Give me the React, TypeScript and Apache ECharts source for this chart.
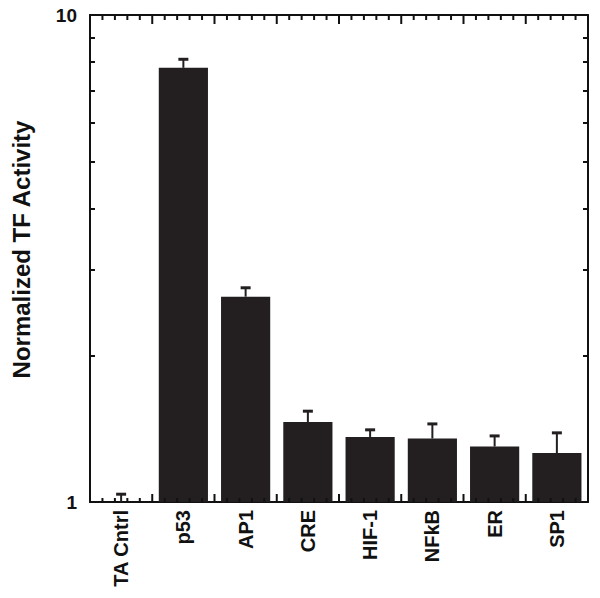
import React, { useEffect, useRef } from "react";
import * as echarts from "echarts";

const categories = ["TA Cntrl", "p53", "AP1", "CRE", "HIF-1", "NFkB", "ER", "SP1"];
const activity = [1.0, 7.79, 2.64, 1.46, 1.36, 1.35, 1.3, 1.26];
const errorTop = [1.04, 8.13, 2.76, 1.54, 1.41, 1.45, 1.37, 1.39];
const yMinorTickValues = [2, 3, 4, 5, 6, 7, 8, 9];
// frame tick positions along x, in category-width units (5 subdivisions per category)
const xFrameTicks = [
  0, 0.2, 0.4, 0.6, 0.8, 1, 1.2, 1.4, 1.6, 1.8, 2, 2.2, 2.4, 2.6, 2.8, 3, 3.2, 3.4, 3.6, 3.8, 4,
  4.2, 4.4, 4.6, 4.8, 5, 5.2, 5.4, 5.6, 5.8, 6, 6.2, 6.4, 6.6, 6.8, 7, 7.2, 7.4, 7.6, 7.8, 8,
];

const FONT = "'Liberation Sans', Arial, Helvetica, sans-serif";
const BLACK = "#111";
const BAR = "#231f20";

export default function App() {
  const ref = useRef<HTMLDivElement>(null);
  useEffect(() => {
    if (!ref.current) return;
    const chart = echarts.init(ref.current, null, { renderer: "svg" });
    const logTicks = yMinorTickValues.map((v) => Math.log10(v));
    const gridBox = { left: 90, right: 12, top: 15, bottom: 96, outerBoundsMode: "none" };
    const tickAxisY = (gridIndex: number, position: "left" | "right", showLine: boolean) => ({
      type: "value",
      gridIndex,
      position,
      min: 0,
      max: 1,
      axisLine: { show: showLine, onZero: false, lineStyle: { color: BLACK, width: 2 } },
      axisTick: {
        show: true,
        inside: true,
        length: 5,
        customValues: logTicks,
        lineStyle: { color: BLACK, width: 2 },
      },
      axisLabel: { show: false },
      splitLine: { show: false },
    });
    chart.setOption({
      animation: false,
      backgroundColor: "#fff",
      grid: [{ ...gridBox }, { ...gridBox }],
      xAxis: [
        {
          type: "category",
          gridIndex: 0,
          data: categories,
          position: "bottom",
          axisLine: { show: true, onZero: false, lineStyle: { color: BLACK, width: 2 } },
          axisTick: { show: false },
          axisLabel: {
            rotate: 90,
            margin: 8,
            color: BLACK,
            fontSize: 20,
            fontWeight: "bold",
            fontFamily: FONT,
          },
        },
        {
          type: "value",
          gridIndex: 1,
          position: "top",
          min: 0,
          max: 8,
          interval: 1,
          axisLine: { show: true, onZero: false, lineStyle: { color: BLACK, width: 2 } },
          axisTick: { show: false },
          axisLabel: { show: false },
          splitLine: { show: false },
        },
      ],
      yAxis: [
        {
          type: "log",
          gridIndex: 0,
          logBase: 10,
          min: 1,
          max: 10,
          position: "left",
          name: "Normalized TF Activity",
          nameLocation: "middle",
          nameGap: 57,
          nameTextStyle: {
            color: BLACK,
            fontSize: 24,
            fontWeight: "bold",
            fontFamily: FONT,
            padding: [0, 0, 0, 18],
          },
          axisLine: { show: true, onZero: false, lineStyle: { color: BLACK, width: 2 } },
          axisTick: { show: false },
          axisLabel: { margin: 13, color: BLACK, fontSize: 19, fontWeight: "bold", fontFamily: FONT },
          splitLine: { show: false },
        },
        tickAxisY(1, "left", false),
        tickAxisY(0, "right", true),
      ],
      series: [
        {
          type: "bar",
          xAxisIndex: 0,
          yAxisIndex: 0,
          data: activity,
          barWidth: "79%",
          itemStyle: { color: BAR },
          z: 3,
        },
        {
          type: "custom",
          xAxisIndex: 0,
          yAxisIndex: 0,
          z: 4,
          data: categories.map((_, i) => [i, activity[i], errorTop[i]]),
          encode: { x: 0, y: 2 },
          renderItem: (params: any, api: any) => {
            const i = api.value(0);
            const base = api.coord([i, api.value(1)]);
            const top = api.coord([i, api.value(2)]);
            return {
              type: "group",
              children: [
                {
                  type: "line",
                  shape: { x1: base[0], y1: base[1], x2: top[0], y2: top[1] },
                  style: { stroke: BAR, lineWidth: 2 },
                },
                {
                  type: "rect",
                  shape: { x: top[0] - 5, y: top[1] - 1, width: 10, height: 3 },
                  style: { fill: BAR },
                },
              ],
            };
          },
        },
        {
          type: "custom",
          xAxisIndex: 1,
          yAxisIndex: 1,
          z: 10,
          silent: true,
          clip: false,
          data: xFrameTicks.map((x) => [x, 0.5]),
          encode: { x: 0, y: 1 },
          renderItem: (params: any, api: any) => {
            const x = api.value(0);
            const major = Math.abs(x - Math.round(x)) < 1e-6;
            const pTop = api.coord([x, 1]);
            const pBot = api.coord([x, 0]);
            const topLen = major ? 9 : 5;
            const botLen = major ? 8 : 4;
            return {
              type: "group",
              children: [
                {
                  type: "rect",
                  shape: { x: pTop[0] - 1, y: pTop[1], width: 2, height: topLen },
                  style: { fill: BLACK },
                },
                {
                  type: "rect",
                  shape: { x: pBot[0] - 1, y: pBot[1] - botLen, width: 2, height: botLen },
                  style: { fill: BLACK },
                },
              ],
            };
          },
        },
      ],
    });
    return () => chart.dispose();
  }, []);
  return (
    <div
      ref={ref}
      style={{ position: "absolute", left: 0, top: 0, width: 600, height: 598, background: "#fff" }}
    />
  );
}
